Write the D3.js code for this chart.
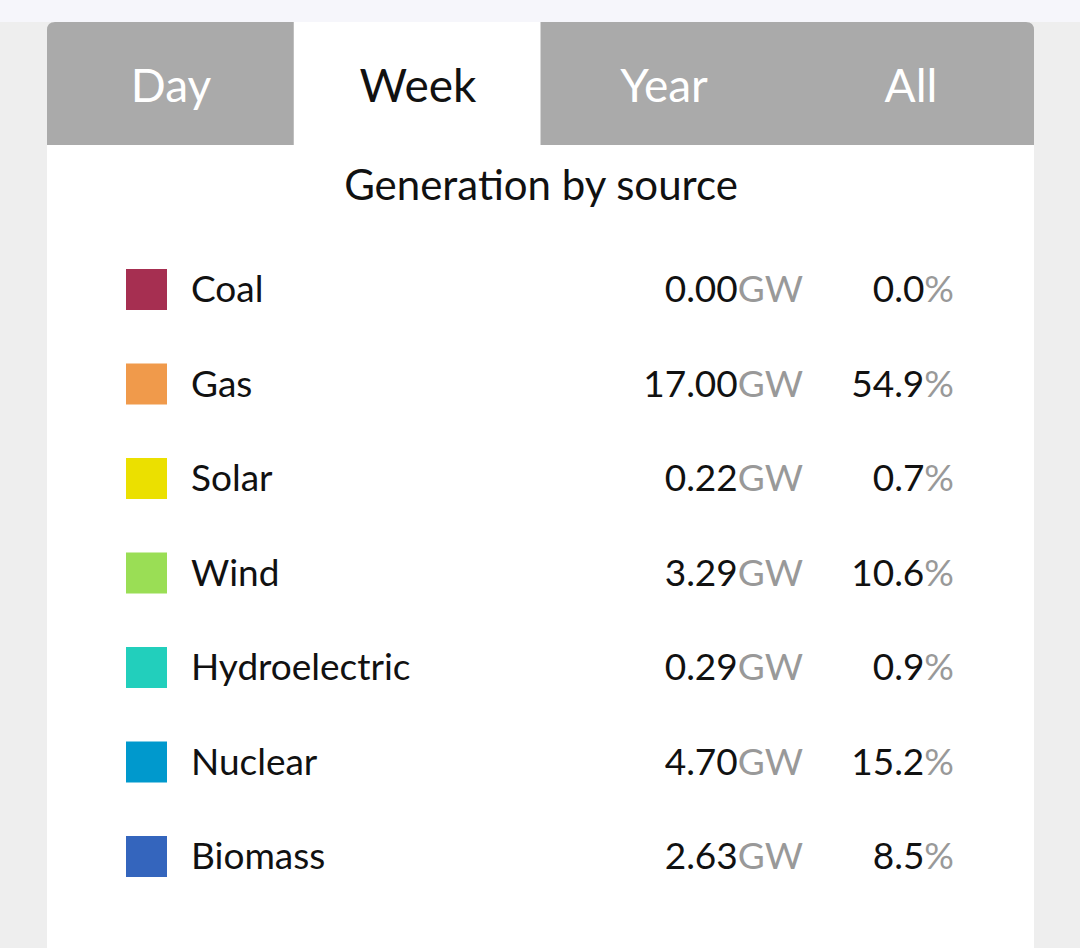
<!DOCTYPE html>
<html><head><meta charset="utf-8">
<script src="https://cdn.jsdelivr.net/npm/d3@7"></script>
<style>
body{margin:0;background:#eeeeee;font-family:Lato,"Open Sans",sans-serif;}
</style></head>
<body>
<svg id="chart" width="1080" height="948"></svg>
<script>
'use strict';
var tabs = ['Day', 'Week', 'Year', 'All'];
var activeTab = 'Week';
var sources = ['Coal', 'Gas', 'Solar', 'Wind', 'Hydroelectric', 'Nuclear', 'Biomass'];
var gigawatts = [0.00, 17.00, 0.22, 3.29, 0.29, 4.70, 2.63];
var percents = [0.0, 54.9, 0.7, 10.6, 0.9, 15.2, 8.5];
var colours = ['#a62f51', '#f09a4b', '#ebe000', '#9ade55', '#22cfbc', '#0099cd', '#3465bd'];

var svg = d3.select('#chart');

// page background and top strip
svg.append('rect').attr('width', 1080).attr('height', 948).attr('fill', '#eeeeee');
svg.append('rect').attr('width', 1080).attr('height', 22).attr('fill', '#f6f6fb');

// card
svg.append('path')
    .attr('d', 'M47,30 Q47,22 55,22 L1026,22 Q1034,22 1034,30 L1034,948 L47,948 Z')
    .attr('fill', '#ffffff');

// tabs: gray strip with rounded outer corners, active tab white
var tabX = d3.scaleBand().domain(tabs).range([47, 1034]);
svg.append('path')
    .attr('d', 'M47,145 L47,30 Q47,22 55,22 L1026,22 Q1034,22 1034,30 L1034,145 Z')
    .attr('fill', '#aaaaaa');
svg.append('rect')
    .attr('x', tabX(activeTab)).attr('y', 22)
    .attr('width', tabX.bandwidth()).attr('height', 123)
    .attr('fill', '#ffffff');

var tabTextX = {Day: 171, Week: 418, Year: 664, All: 911};
svg.selectAll('text.tab').data(tabs).enter().append('text')
    .attr('class', 'tab')
    .attr('x', function(d) { return tabTextX[d]; })
    .attr('y', 102)
    .attr('text-anchor', 'middle')
    .attr('font-size', 46)
    .attr('fill', function(d) { return d === activeTab ? '#111111' : '#ffffff'; })
    .text(function(d) { return d; });

svg.append('text')
    .attr('x', 541).attr('y', 200)
    .attr('text-anchor', 'middle')
    .attr('font-size', 42)
    .attr('fill', '#111111')
    .text('Generation by source');

// rows
var y = d3.scalePoint().domain(sources).range([289, 856]);
var rows = svg.selectAll('g.row').data(sources).enter().append('g')
    .attr('class', 'row')
    .attr('transform', function(d) { return 'translate(0,' + y(d) + ')'; });

rows.append('rect')
    .attr('x', 126).attr('y', -20)
    .attr('width', 41).attr('height', 41)
    .attr('fill', function(d, i) { return colours[i]; });

rows.append('text')
    .attr('x', 191).attr('y', 13)
    .attr('font-size', 37)
    .attr('fill', '#111111')
    .text(function(d) { return d; });

var gw = rows.append('text')
    .attr('x', 803).attr('y', 13)
    .attr('text-anchor', 'end')
    .attr('font-size', 37);
gw.append('tspan').attr('fill', '#111111')
    .text(function(d, i) { return gigawatts[i].toFixed(2); });
gw.append('tspan').attr('fill', '#999999').text('GW');

var pc = rows.append('text')
    .attr('x', 954).attr('y', 13)
    .attr('text-anchor', 'end')
    .attr('font-size', 37);
pc.append('tspan').attr('fill', '#111111')
    .text(function(d, i) { return percents[i].toFixed(1); });
pc.append('tspan').attr('fill', '#999999').text('%');
</script>
</body></html>
